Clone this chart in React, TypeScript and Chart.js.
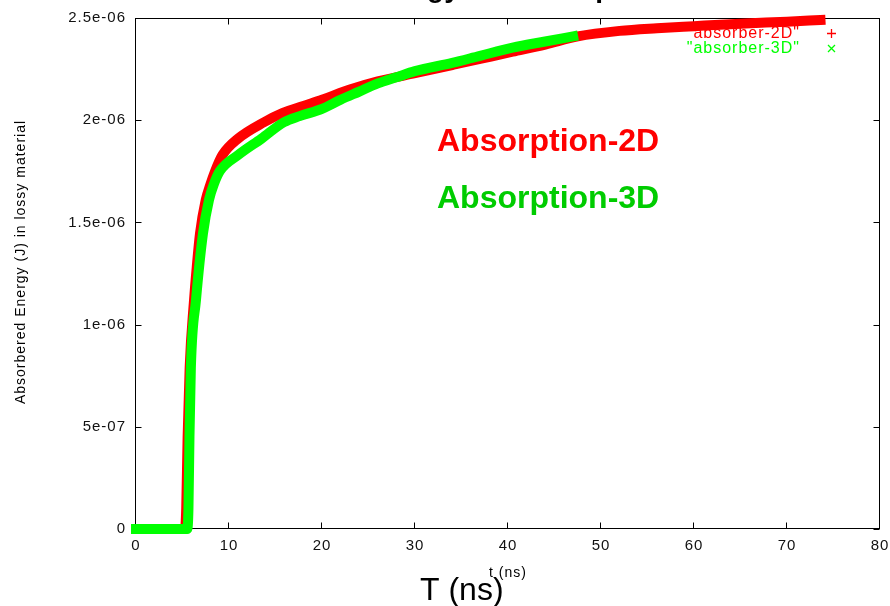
import { useEffect, useRef } from "react";
import { Chart, registerables } from "chart.js";

Chart.register(...registerables);

// Time axis (ns) and absorbed energy (J) for the 2D run
const t2D = [0, 5.25, 5.4, 5.55, 5.77, 6.24, 6.53, 6.88, 7.5, 7.96, 8.5, 9.3, 10.97, 13.76, 15.8, 18, 20, 23, 26, 30, 34, 37, 40.5, 44, 47.5, 52, 56, 60, 65, 70, 73.6];
const e2D = [0, 0, 0.1e-6, 0.45e-6, 0.79e-6, 1.12e-6, 1.28e-6, 1.445e-6, 1.61e-6, 1.68e-6, 1.75e-6, 1.83e-6, 1.91e-6, 1.99e-6, 2.036e-6, 2.07e-6, 2.1e-6, 2.15e-6, 2.19e-6, 2.23e-6, 2.27e-6, 2.3e-6, 2.335e-6, 2.37e-6, 2.41e-6, 2.437e-6, 2.45e-6, 2.46e-6, 2.472e-6, 2.482e-6, 2.49e-6];

// Time axis (ns) and absorbed energy (J) for the 3D run
const t3D = [0, 5.5, 5.64, 5.75, 5.9, 6.45, 7.2, 7.85, 8.4, 9.0, 11, 13.5, 15.9, 17.6, 20, 22, 24, 26, 28, 30, 34, 37, 40.5, 44, 47.0];
const e3D = [0, 0, 0.1e-6, 0.45e-6, 0.79e-6, 1.12e-6, 1.445e-6, 1.61e-6, 1.69e-6, 1.75e-6, 1.83e-6, 1.91e-6, 1.99e-6, 2.02e-6, 2.055e-6, 2.1e-6, 2.14e-6, 2.18e-6, 2.21e-6, 2.24e-6, 2.28e-6, 2.315e-6, 2.355e-6, 2.385e-6, 2.41e-6];

const xTickValues = [0, 10, 20, 30, 40, 50, 60, 70, 80];
const xTickLabels = ["0", "10", "20", "30", "40", "50", "60", "70", "80"];
const yTickValues = [0, 5e-7, 1e-6, 1.5e-6, 2e-6, 2.5e-6];
const yTickLabels = ["0", "5e-07", "1e-06", "1.5e-06", "2e-06", "2.5e-06"];

const seriesNames = ['"absorber-2D"', '"absorber-3D"'];
const noteLabels = ["Absorption-2D", "Absorption-3D"];
const plotTitle = "Absorbed Energy vs. Absorption";
const xTitle = "t (ns)";
const yTitle = "Absorbered Energy (J) in lossy material";
const bigXTitle = "T (ns)";

const RED = "#ff0000";
const GREEN = "#00ff00";
const GREEN_TEXT = "#00cc00";
const FONT = '"Liberation Sans", Arial, Helvetica, sans-serif';

const toPoints = (xs: number[], ys: number[]) => xs.map((x, i) => ({ x, y: ys[i] }));

// Border box with inward ticks on all four sides
const framePlugin = {
  id: "frame",
  beforeDatasetsDraw(chart: any) {
    const { ctx, chartArea: a, scales } = chart;
    ctx.save();
    ctx.strokeStyle = "#000";
    ctx.lineWidth = 1;
    const l = Math.round(a.left) - 0.5;
    const r = Math.round(a.right) - 0.5;
    const t = Math.round(a.top) + 0.5;
    const b = Math.round(a.bottom) - 0.5;
    ctx.strokeRect(l, t, r - l, b - t);
    const len = 6;
    ctx.beginPath();
    xTickValues.forEach((v) => {
      const px = Math.round(scales.x.getPixelForValue(v)) - 0.5;
      ctx.moveTo(px, b);
      ctx.lineTo(px, b - len);
      ctx.moveTo(px, t);
      ctx.lineTo(px, t + len);
    });
    yTickValues.forEach((v) => {
      const py = Math.round(scales.y.getPixelForValue(v)) + 0.5;
      ctx.moveTo(l, py);
      ctx.lineTo(l + len, py);
      ctx.moveTo(r, py);
      ctx.lineTo(r - len, py);
    });
    ctx.stroke();
    ctx.restore();
  },
};

// Wider glyph spacing for axis text
const spacingPlugin = {
  id: "spacing",
  beforeDraw(chart: any) {
    chart.ctx.letterSpacing = "1px";
  },
};

// Titles, key and in-plot notes
const textPlugin = {
  id: "texts",
  afterDraw(chart: any) {
    const { ctx, chartArea: a } = chart;
    ctx.save();

    // page title (mostly above the canvas)
    ctx.letterSpacing = "0px";
    ctx.fillStyle = "#000";
    ctx.font = `bold 28px ${FONT}`;
    ctx.textAlign = "center";
    ctx.textBaseline = "alphabetic";
    ctx.fillText(plotTitle, 445, -3);

    // y axis title
    ctx.letterSpacing = "1px";
    ctx.font = `14px ${FONT}`;
    ctx.fillStyle = "#000";
    ctx.save();
    ctx.translate(25, 262);
    ctx.rotate(-Math.PI / 2);
    ctx.textAlign = "center";
    ctx.textBaseline = "alphabetic";
    ctx.fillText(yTitle, 0, 0);
    ctx.restore();

    // x axis title
    ctx.textAlign = "center";
    ctx.fillText(xTitle, (a.left + a.right) / 2, 577);

    // large time label
    ctx.letterSpacing = "0px";
    ctx.font = `32px ${FONT}`;
    ctx.textAlign = "left";
    ctx.fillText(bigXTitle, 420, 600);

    // key
    ctx.letterSpacing = "1px";
    ctx.font = `16px ${FONT}`;
    ctx.textAlign = "right";
    ctx.fillStyle = RED;
    ctx.fillText(seriesNames[0], 800, 38);
    ctx.fillStyle = GREEN;
    ctx.fillText(seriesNames[1], 800, 53);
    ctx.lineWidth = 1.3;
    ctx.strokeStyle = RED;
    ctx.beginPath();
    ctx.moveTo(827, 33.5);
    ctx.lineTo(836, 33.5);
    ctx.moveTo(831.5, 29);
    ctx.lineTo(831.5, 38);
    ctx.stroke();
    ctx.strokeStyle = GREEN;
    ctx.beginPath();
    ctx.moveTo(828, 45);
    ctx.lineTo(835, 52);
    ctx.moveTo(835, 45);
    ctx.lineTo(828, 52);
    ctx.stroke();

    // in-plot notes
    ctx.letterSpacing = "0px";
    ctx.font = `bold 32px ${FONT}`;
    ctx.textAlign = "left";
    ctx.fillStyle = RED;
    ctx.fillText(noteLabels[0], 437, 151);
    ctx.fillStyle = GREEN_TEXT;
    ctx.fillText(noteLabels[1], 437, 208);

    ctx.restore();
  },
};

export default function App() {
  const canvasRef = useRef<HTMLCanvasElement | null>(null);

  useEffect(() => {
    const canvas = canvasRef.current;
    if (!canvas) return;
    const tickFont = { family: FONT, size: 15 };
    const chart = new Chart(canvas, {
      type: "line",
      data: {
        datasets: [
          {
            label: seriesNames[0],
            data: toPoints(t2D, e2D),
            borderColor: RED,
            backgroundColor: RED,
            borderWidth: 10,
            pointRadius: 0,
            cubicInterpolationMode: "monotone",
            borderCapStyle: "square",
            clip: false,
            order: 1,
          },
          {
            label: seriesNames[1],
            data: toPoints(t3D, e3D),
            borderColor: GREEN,
            backgroundColor: GREEN,
            borderWidth: 10,
            pointRadius: 0,
            cubicInterpolationMode: "monotone",
            borderCapStyle: "square",
            clip: false,
            order: 0,
          },
        ],
      },
      options: {
        responsive: false,
        animation: false,
        devicePixelRatio: 1,
        layout: { padding: { left: 0, top: 18, right: 10, bottom: 0 } },
        plugins: {
          legend: { display: false },
          tooltip: { enabled: false },
          title: { display: false },
        },
        scales: {
          x: {
            type: "linear",
            min: 0,
            max: 80,
            grid: { display: false, drawTicks: false, tickLength: 0 },
            border: { display: false },
            afterBuildTicks: (scale: any) => {
              scale.ticks = xTickValues.map((v) => ({ value: v }));
            },
            afterFit: (scale: any) => {
              scale.height = 77;
              scale.paddingLeft = 0;
              scale.paddingRight = 0;
            },
            ticks: {
              color: "#111",
              font: tickFont,
              padding: 8,
              maxRotation: 0,
              autoSkip: false,
              callback: (_v: any, i: number) => xTickLabels[i],
            },
          },
          y: {
            type: "linear",
            min: 0,
            max: 2.5e-6,
            grid: { display: false, drawTicks: false, tickLength: 0 },
            border: { display: false },
            afterBuildTicks: (scale: any) => {
              scale.ticks = yTickValues.map((v) => ({ value: v }));
            },
            afterFit: (scale: any) => {
              scale.width = 136;
              scale.paddingTop = 0;
              scale.paddingBottom = 0;
            },
            ticks: {
              color: "#111",
              font: tickFont,
              padding: 10,
              autoSkip: false,
              callback: (_v: any, i: number) => yTickLabels[i],
            },
          },
        },
      },
      plugins: [spacingPlugin, framePlugin, textPlugin],
    } as any);
    return () => chart.destroy();
  }, []);

  return (
    <div style={{ position: "absolute", left: 0, top: 0, width: 890, height: 606, background: "#fff" }}>
      <canvas ref={canvasRef} width={890} height={606} style={{ display: "block" }} />
    </div>
  );
}
